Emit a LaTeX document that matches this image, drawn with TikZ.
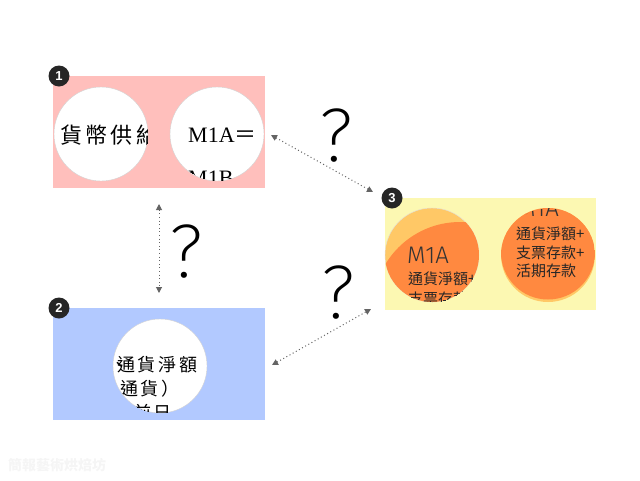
\documentclass[tikz,border=0pt]{standalone}
\usepackage{fontspec}
\setmainfont{Liberation Serif}
\newfontfamily\cjk{Noto Sans CJK TC}
\newfontfamily\cjkwide{Noto Sans CJK TC}[LetterSpace=15]
\newfontfamily\badgefont{Liberation Sans}
\IfFontExistsTF{Fira Sans Light}{\newfontfamily\thinfont{Fira Sans Light}}{\newfontfamily\thinfont{Fira Sans}}
\IfFontExistsTF{Fira Sans ExtraLight}{\newfontfamily\hairfont{Fira Sans ExtraLight}}{\let\hairfont\thinfont}
\usetikzlibrary{arrows.meta}

\definecolor{boxpink}{RGB}{255,191,188}
\definecolor{boxblue}{RGB}{178,201,255}
\definecolor{boxyellow}{RGB}{252,248,178}
\definecolor{lightorange}{RGB}{255,200,102}
\definecolor{deeporange}{RGB}{255,137,64}
\definecolor{linkgray}{RGB}{100,100,100}
\definecolor{markgray}{RGB}{245,245,245}

\tikzset{
    % Group box - flat colour block
    groupbox/.style={
        rectangle,
        draw=none,
        inner sep=0pt,
        anchor=north west,
        minimum width=212pt,
        minimum height=112pt
    },
    % Bubble - white disc
    bubble/.style={
        circle,
        inner sep=0pt,
        minimum size=94pt,
        fill=white,
        draw=black!18,
        line width=0.4pt
    },
    % Badge - black numbered disc
    badge/.style={
        circle,
        inner sep=0pt,
        minimum size=21pt,
        fill=black!85,
        text=white,
        font=\badgefont\bfseries\fontsize{13}{13}\selectfont
    },
    % Text line inside a bubble
    bubbletext/.style={
        anchor=base west,
        inner sep=0pt
    },
    % Question mark
    query/.style={
        inner sep=0pt,
        font=\hairfont\fontsize{76}{76}\selectfont
    },
    % Dotted two-way link
    link/.style={
        {Triangle[length=6pt,width=6pt]}-{Triangle[length=6pt,width=6pt]},
        linkgray,
        line width=1pt,
        dash pattern=on 1pt off 2.6pt
    }
}

\begin{document}
\begin{tikzpicture}[x=1pt,y=-1pt]
    \useasboundingbox (0,0) rectangle (640,480);

    % ========== GROUP BOXES ==========
    \node[groupbox, fill=boxpink] (group1) at (53,76) {};
    \node[groupbox, fill=boxblue] (group2) at (53,308) {};
    \node[groupbox, fill=boxyellow, minimum width=211pt] (group3) at (385,198) {};

    % ========== GROUP 1 ==========
    \node[bubble] (supply) at (101,134) {};
    \node[bubble] (mdef) at (217,134) {};
    \begin{scope}
        \clip (supply.center) circle[radius=47pt];
        \node[bubbletext, font=\cjkwide\fontsize{22}{22}\selectfont] (supplytext) at (60,143) {貨幣供給};
    \end{scope}
    \begin{scope}
        \clip (mdef.center) circle[radius=46.5pt];
        \node[bubbletext, font=\fontsize{22}{22}\selectfont] (mdefa) at (188,142) {M1A{\cjk ＝}};
        \node[bubbletext, font=\fontsize{22}{22}\selectfont] (mdefb) at (188,185) {M1B};
    \end{scope}

    % ========== GROUP 2 ==========
    \node[bubble] (netcash) at (160,366) {};
    \begin{scope}
        \clip (netcash.center) circle[radius=47pt];
        \node[bubbletext, font=\cjkwide\fontsize{18}{18}\selectfont] (netcasha) at (110,371) {、\hspace{-11pt}通貨淨額};
        \node[bubbletext, font=\cjkwide\fontsize{18}{18}\selectfont] (netcashb) at (120,395) {通貨）};
        \node[bubbletext, font=\cjkwide\fontsize{18}{18}\selectfont] (netcashc) at (133,419) {前日};
    \end{scope}

    % ========== GROUP 3 ==========
    \node[bubble, fill=lightorange, draw=black!12] (mone) at (432,255) {};
    \node[bubble, fill=lightorange, draw=none] (mtwo) at (548,255) {};
    \begin{scope}
        \clip (mone.center) circle[radius=47pt];
        \fill[deeporange] (460,309) circle[radius=87pt];
        \node[bubbletext, font=\thinfont\fontsize{24}{24}\selectfont, text=black!80] (monea) at (407,263) {M1A};
        \node[bubbletext, font=\cjk\fontsize{15}{15}\selectfont, text=black!85] (moneb) at (408,284) {通貨淨額+};
        \node[bubbletext, font=\cjk\fontsize{15}{15}\selectfont, text=black!85] (monec) at (408,304) {支票存款};
    \end{scope}
    \begin{scope}
        \clip (mtwo.center) circle[radius=47pt];
        \fill[deeporange] (548,252.5) circle[radius=47pt];
        \node[bubbletext, font=\thinfont\fontsize{24}{24}\selectfont, text=black!80] (mtwoa) at (517,216) {M1A};
        \node[bubbletext, font=\cjk\fontsize{15}{15}\selectfont, text=black!85] (mtwob) at (516,239) {通貨淨額+};
        \node[bubbletext, font=\cjk\fontsize{15}{15}\selectfont, text=black!85] (mtwoc) at (516,258) {支票存款+};
        \node[bubbletext, font=\cjk\fontsize{15}{15}\selectfont, text=black!85] (mtwod) at (516,276) {活期存款};
    \end{scope}

    % ========== BADGES ==========
    \node[badge] (badge1) at (59,76) {1};
    \node[badge] (badge2) at (59,308) {2};
    \node[badge] (badge3) at (392,198) {3};

    % ========== LINKS ==========
    \coordinate (linka1) at (271,135);
    \coordinate (linka3) at (373,192);
    \coordinate (linkb1) at (159,204);
    \coordinate (linkb2) at (159,293);
    \coordinate (linkc2) at (272,365);
    \coordinate (linkc3) at (371,309);
    \draw[link] (linka1) -- (linka3);
    \draw[link] (linkb1) -- (linkb2);
    \draw[link] (linkc2) -- (linkc3);

    % Question marks
    \node[query] (querya) at (336,136) {?};
    \node[query] (queryb) at (186,252) {?};
    \node[query] (queryc) at (338,293) {?};

    % ========== WATERMARK ==========
    \node[bubbletext, font=\cjk\bfseries\fontsize{14}{14}\selectfont, text=markgray] (mark) at (8,470) {簡報藝術烘焙坊};

\end{tikzpicture}
\end{document}
